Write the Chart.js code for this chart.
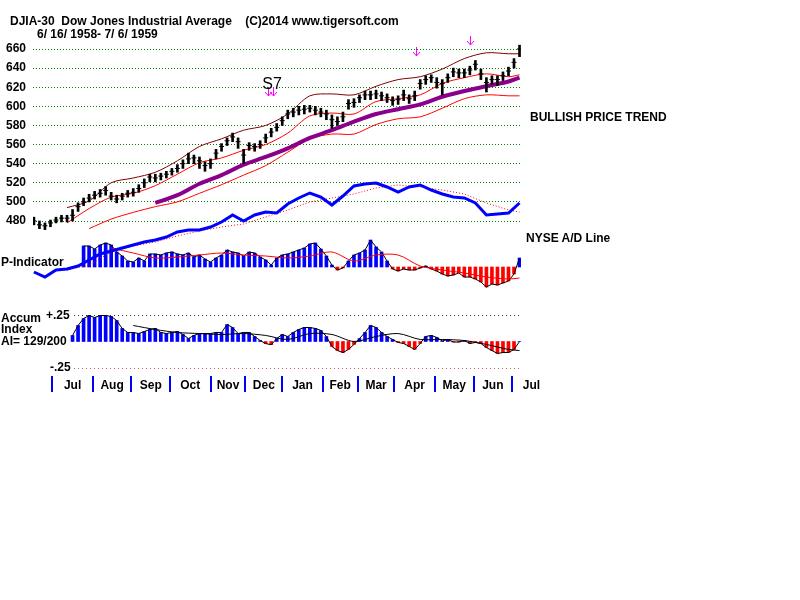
<!DOCTYPE html>
<html>
<head>
<meta charset="utf-8">
<title>DJIA-30 1958-1959</title>
<script src="https://cdn.jsdelivr.net/npm/chart.js@4.4.1/dist/chart.umd.min.js"></script>
<style>
  body { margin: 0; background: #fff; }
  #wrap { position: relative; width: 800px; height: 600px; font-family: "Liberation Sans", Arial, sans-serif; }
  #wrap canvas { position: absolute; left: 0; top: 0; }
  .lbl { position: absolute; font-weight: bold; font-size: 12px; line-height: 12px; white-space: pre; color: #000; }
</style>
</head>
<body>
<div id="wrap">
  <canvas id="chart" width="800" height="600"></canvas>
  <div class="lbl" style="left:10px;top:15px">DJIA-30  Dow Jones Industrial Average    (C)2014 www.tigersoft.com</div>
  <div class="lbl" style="left:37px;top:28px">6/ 16/ 1958- 7/ 6/ 1959</div>
  <div class="lbl" style="left:530px;top:111px">BULLISH PRICE TREND</div>
  <div class="lbl" style="left:526px;top:232px">NYSE A/D Line</div>
  <div class="lbl" style="left:1px;top:256px">P-Indicator</div>
  <div class="lbl" style="left:1px;top:312px">Accum</div>
  <div class="lbl" style="left:1px;top:323px">Index</div>
  <div class="lbl" style="left:1px;top:335px">AI= 129/200</div>
  <div class="lbl" style="left:46px;top:309px">+.25</div>
  <div class="lbl" style="left:50px;top:361px">-.25</div>
</div>
<script>
// Values. x unit = trading day, 0 = 6/16/1958.
const PRICE_STEP = 3;
const priceClose = [480,476,475,478,481,483,483,486,495,500, 504,507,509,512,506,503,506,509,510,514,
  520,526,525,527,529,532,535,540,545,546, 543,538,540,551,558,564,568,563,549,559,
  558,560,567,573,578,585,592,594,596,597, 598,596,594,592,586,584,589,603,604,609,
  612,612,613,611,609,606,607,612,608,611, 624,628,630,625,624,630,636,635,635,638,
  644,634,625,628,628,632,637,646,660];
const priceHigh = [484,480,478,481,484,486,486,492,499,504, 508,511,513,516,510,507,509,512,514,518,
  524,529,529,530,532,535,539,544,551,549, 547,542,545,555,561,567,572,567,555,562,
  561,564,571,577,582,589,596,598,600,601, 601,600,598,596,591,589,594,607,608,612,
  616,616,617,615,613,610,611,617,612,616, 628,632,633,630,628,634,640,639,639,642,
  648,639,630,632,632,636,641,650,664];
const priceLow = [476,472,471,474,478,479,479,480,490,496, 500,503,505,507,502,499,502,505,506,510,
  515,521,521,523,525,528,531,535,540,540, 535,532,535,545,553,559,563,556,540,554,
  553,556,562,568,574,580,587,589,591,592, 594,591,589,586,577,580,584,597,599,604,
  607,607,608,606,604,601,602,606,603,606, 618,623,625,619,612,625,631,630,630,633,
  638,628,615,623,622,627,632,640,652];
const pIndicator = [null,null,null,null,null,null,null,null,null,
  21,21,18,22,24,22,15,11,6,5, 9,6,13,13,12,14,15,13,12,14,
  10,12,8,5,9,12,17,15,14,11, 15,14,10,7,2,9,12,13,15,17,
  19,23,24,18,11,2,-3,-1,6,12, 14,17,27,20,15,6,-2,-4,-2,-3,
  -3,-1,1,-2,-4,-7,-9,-8,-6,-10, -10,-12,-15,-20,-17,-18,-16,-14,-7,9];
const accumIndex = [null,null,null,null,null,null,null,
  0.057,0.151,0.217,0.245,0.226,0.245,0.245,0.236,0.198,0.123,
  0.085,0.085,0.075,0.094,0.113,0.123,0.085,0.075,0.085,0.094,
  0.066,0.028,0.057,0.075,0.075,0.075,0.085,0.085,0.16,0.132,
  0.075,0.085,0.085,0.047,0.009,-0.02,-0.03,0.028,0.066,0.047,
  0.085,0.113,0.132,0.132,0.123,0.104,0.047,-0.047,-0.085,-0.104,
  -0.075,-0.028,0.028,0.085,0.151,0.132,0.085,0.047,0.019,-0.009,
  -0.019,-0.047,-0.075,-0.019,0.047,0.057,0.038,0.005,0.019,-0.005,
  -0.005,0.009,-0.019,-0.009,-0.019,-0.057,-0.085,-0.113,-0.104,-0.104,
  -0.075,0];

// smoother lines, one value every 12 days
const bandDays = [18,30,42,54,66,78,90,102,114,126,138,150,162,174,186,198,210,222,234,246,258,264];
const upperBand = [494,501,520,525,531,543,558,566,575,580,592,611,613,612,621,628,631,639,650,656,655,655];
const midBand = [478,493,505,509,517,529,541,546,554,560,572,590,593,592,605,608,612,624,630,634,631,633];
const lowerBand = [null,472,482,489,495,500,509,518,528,538,552,566,571,571,581,587,589,598,608,612,611,611];
const longAvg = [null,null,null,null,499,507,519,528,539,547,556,567,575,584,592,597,602,610,616,621,626,630];
const adAvg = [30,35,48,54,58,64,69,73,76,83,90,98,102,106,112,115,113,110,106,97,90,88];
const pAvg = [null,null,19,14,9,10,12,14,12,11,9,11,15,6,12,12,1,-3,-6,-10,-12,-11];
const accumAvg = [null,null,null,0.151,0.113,0.085,0.075,0.066,0.075,0.057,0.019,0.075,0.066,0,0.047,0.075,0.019,0.019,0.009,-0.028,-0.075,-0.085];

// NYSE A/D line, one value every 6 days
const AD_STEP = 6;
const adLine = [28,23,30,31,34,40,46,49,52,55,58,60,63,68,70,70,73,78,85,79,85,88,87,96,102,107,103,95,104,114,
  116,117,113,108,113,115,110,106,103,102,97,85,86,87,97];

const monthStarts = [10,32,53,74,96,115,135,157,176,196,218,239,260];
const monthNames = ['Jul','Aug','Sep','Oct','Nov','Dec','Jan','Feb','Mar','Apr','May','Jun','Jul'];
const priceTicks = [480,500,520,540,560,580,600,620,640,660];
const accumLevels = [0.25, -0.25];
const signalDays = [127, 130, 207.5, 237];
const signalPrice = [620, 620, 662, 674];
const signalName = 'S7';
const signalNameDay = 129.5;

const FONT = '"Liberation Sans", Arial, sans-serif';
Chart.defaults.font.family = FONT;

const priceDays = priceClose.map((_, i) => i * PRICE_STEP);
const adDays = adLine.map((_, i) => i * AD_STEP);
const xy = (days, vals) => days.map((d, i) => ({ x: d, y: vals[i] }));

function lineSet(data, axis, color, width, order, extra) {
  return Object.assign({
    type: 'line', data, yAxisID: axis, borderColor: color, borderWidth: width,
    pointRadius: 0, fill: false, tension: 0, order
  }, extra || {});
}

// dotted +.25 / -.25 lines of the accumulation panel
const accumLevelPlugin = {
  id: 'accumLevels',
  beforeDatasetsDraw(chart) {
    const { ctx, chartArea, scales } = chart;
    ctx.save();
    ctx.lineWidth = 1;
    ctx.setLineDash([1, 3]);
    accumLevels.forEach(v => {
      const py = Math.round(scales.yAcc.getPixelForValue(v)) + 0.5;
      ctx.strokeStyle = v > 0 ? '#333333' : '#c06060';
      ctx.beginPath();
      ctx.moveTo(74, py);
      ctx.lineTo(chartArea.right, py);
      ctx.stroke();
    });
    ctx.restore();
  }
};

// magenta sell arrows and the signal name
const signalPlugin = {
  id: 'signals',
  afterDatasetsDraw(chart) {
    const { ctx, scales } = chart;
    ctx.save();
    ctx.strokeStyle = '#ff00ff';
    ctx.lineWidth = 1;
    signalDays.forEach((d, i) => {
      const px = Math.round(scales.x.getPixelForValue(d)) + 0.5;
      const top = Math.round(scales.y.getPixelForValue(signalPrice[i]));
      const bottom = top + 9;
      ctx.beginPath();
      ctx.moveTo(px, top);
      ctx.lineTo(px, bottom);
      ctx.moveTo(px - 3.5, bottom - 4);
      ctx.lineTo(px, bottom);
      ctx.lineTo(px + 3.5, bottom - 4);
      ctx.stroke();
    });
    ctx.fillStyle = '#000';
    ctx.font = '16px ' + FONT;
    ctx.textAlign = 'center';
    ctx.textBaseline = 'alphabetic';
    ctx.fillText(signalName, scales.x.getPixelForValue(signalNameDay), scales.y.getPixelForValue(signalPrice[0]) + 2);
    ctx.restore();
  }
};

const posNeg = (pos, neg) => (ctx) => (ctx.raw && ctx.raw.y < 0 ? neg : pos);

new Chart(document.getElementById('chart'), {
  type: 'bar',
  data: {
    datasets: [
      // A/D line and its average
      lineSet(xy(adDays, adLine), 'yAD', '#0000ff', 3, 1),
      lineSet(xy(bandDays, adAvg), 'yAD', '#ff0000', 1, 2, { borderDash: [1, 2] }),
      // price bars and closes
      {
        type: 'bar', yAxisID: 'y', order: 4, grouped: false, barThickness: 2,
        backgroundColor: '#000000',
        data: priceDays.map((d, i) => ({ x: d, y: [priceLow[i], priceHigh[i]] }))
      },
      {
        type: 'line', yAxisID: 'y', order: 4, showLine: false,
        data: xy(priceDays, priceClose),
        pointStyle: 'line', pointRadius: 2.5, pointBorderColor: '#000000', pointBorderWidth: 1
      },
      // bands and long average
      lineSet(xy(bandDays, upperBand), 'y', '#800000', 1, 6, { tension: 0.3 }),
      lineSet(xy(bandDays, midBand), 'y', '#ff0000', 1, 6, { tension: 0.3 }),
      lineSet(xy(bandDays, lowerBand), 'y', '#ff0000', 1, 6, { tension: 0.3 }),
      lineSet(xy(bandDays, longAvg), 'y', '#8b008b', 4, 5, { tension: 0.3 }),
      // P-Indicator
      {
        type: 'bar', yAxisID: 'yP', order: 9, grouped: false, barThickness: 3,
        backgroundColor: posNeg('#0000ff', '#ff0000'),
        data: xy(priceDays, pIndicator)
      },
      lineSet(xy(priceDays, pIndicator), 'yP', '#000000', 1, 8),
      lineSet(xy(bandDays, pAvg), 'yP', '#ff0000', 1, 7, { tension: 0.3 }),
      // Accumulation index
      {
        type: 'bar', yAxisID: 'yAcc', order: 9, grouped: false, barThickness: 3,
        backgroundColor: posNeg('#0000ff', '#ff0000'),
        data: xy(priceDays, accumIndex)
      },
      lineSet(xy(priceDays, accumIndex), 'yAcc', '#000000', 1, 8),
      lineSet(xy(bandDays, accumAvg), 'yAcc', '#000000', 1, 7, { tension: 0.3 })
    ]
  },
  options: {
    responsive: false,
    devicePixelRatio: 1,
    animation: false,
    events: [],
    layout: { padding: { top: 40, right: 279, left: 0, bottom: 0 } },
    plugins: { legend: { display: false }, tooltip: { enabled: false } },
    scales: {
      x: {
        type: 'linear', min: -0.5, max: 264.8, offset: false,
        afterFit: (s) => { s.height = 224; },
        afterBuildTicks: (s) => {
          const t = monthStarts.map(v => ({ value: v, name: '' }));
          monthNames.forEach((m, i) => {
            const next = i < monthStarts.length - 1 ? monthStarts[i + 1] : 2 * monthStarts[i] - monthStarts[i - 1];
            t.push({ value: (monthStarts[i] + next) / 2, name: m });
          });
          t.sort((a, b) => a.value - b.value);
          s.ticks = t;
        },
        grid: {
          offset: false, drawOnChartArea: false, tickLength: 16, lineWidth: 2,
          color: (ctx) => (ctx.tick && monthStarts.includes(ctx.tick.value) ? '#0000ff' : 'rgba(0,0,0,0)')
        },
        border: { display: false },
        ticks: {
          autoSkip: false, maxRotation: 0, padding: -14, color: '#000',
          font: { size: 12, weight: 'bold' },
          callback: (v, i, ticks) => ticks[i].name
        }
      },
      y: {
        position: 'left', min: 317.79, max: 669.42,
        afterFit: (s) => { s.width = 33; },
        afterBuildTicks: (s) => { s.ticks = priceTicks.map(v => ({ value: v })); },
        grid: { color: '#008000', lineWidth: 1, drawTicks: false },
        border: { display: false, dash: [1, 2] },
        ticks: { padding: 7, color: '#000', font: { size: 12, weight: 'bold' } }
      },
      yAD: { display: false, min: -76, max: 260 },
      yP: { display: false, min: -109, max: 227 },
      yAcc: { display: false, min: -0.3255, max: 2.844 }
    }
  },
  plugins: [accumLevelPlugin, signalPlugin]
});
</script>
</body>
</html>
